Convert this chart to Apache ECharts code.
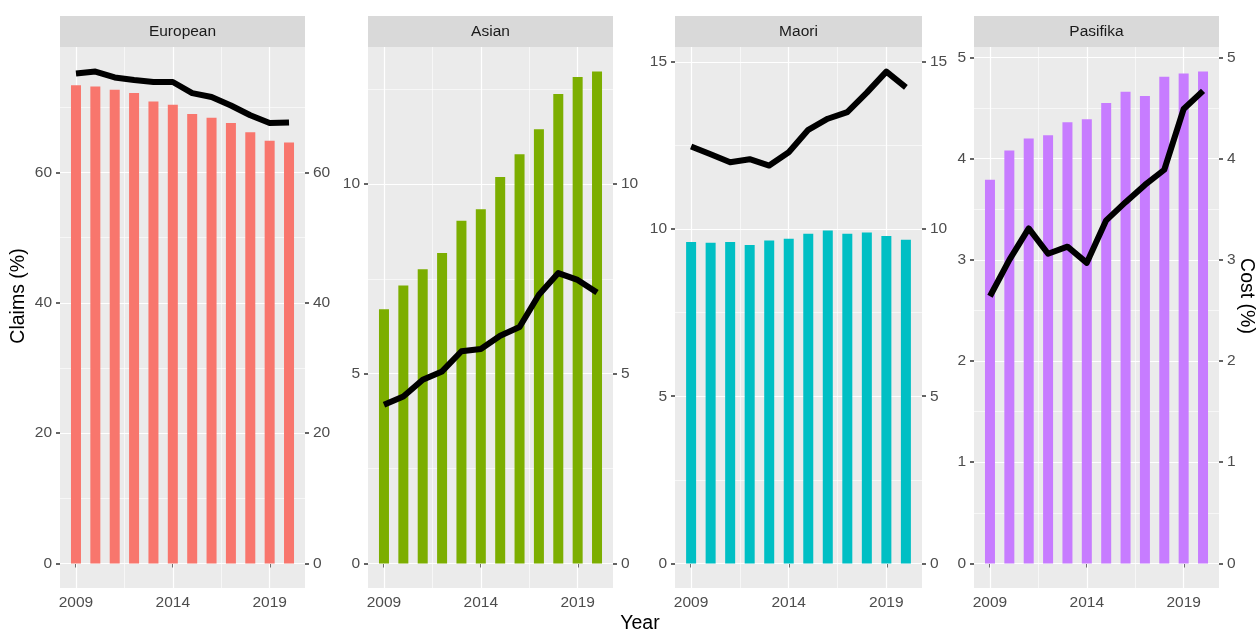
<!DOCTYPE html>
<html>
<head>
<meta charset="utf-8">
<script src="https://cdn.jsdelivr.net/npm/echarts@6/dist/echarts.min.js"></script>
<style>
  html, body { margin: 0; padding: 0; background: #ffffff; }
  #chart { width: 1256px; height: 633px; }
</style>
</head>
<body>
<div id="chart"></div>
<script>
// Claims share (bars) and cost share (line) by ethnic group, 2009-2020
const years = [2009, 2010, 2011, 2012, 2013, 2014, 2015, 2016, 2017, 2018, 2019, 2020];
const groups = ['European', 'Asian', 'Maori', 'Pasifika'];

const claimsEuropean = [73.4, 73.2, 72.7, 72.2, 70.9, 70.4, 69.0, 68.4, 67.6, 66.2, 64.9, 64.6];
const costEuropean   = [75.2, 75.5, 74.6, 74.2, 73.9, 73.9, 72.2, 71.6, 70.3, 68.8, 67.6, 67.7];

const claimsAsian = [6.70, 7.32, 7.75, 8.18, 9.03, 9.33, 10.18, 10.78, 11.44, 12.37, 12.82, 12.96];
const costAsian   = [4.18, 4.40, 4.84, 5.06, 5.59, 5.65, 6.00, 6.23, 7.08, 7.65, 7.47, 7.14];

const claimsMaori = [9.61, 9.59, 9.61, 9.52, 9.66, 9.71, 9.86, 9.96, 9.86, 9.90, 9.79, 9.68];
const costMaori   = [12.47, 12.24, 12.00, 12.09, 11.90, 12.30, 12.97, 13.30, 13.50, 14.08, 14.71, 14.24];

const claimsPasifika = [3.79, 4.08, 4.20, 4.23, 4.36, 4.39, 4.55, 4.66, 4.62, 4.81, 4.84, 4.86];
const costPasifika   = [2.64, 3.00, 3.31, 3.06, 3.13, 2.97, 3.39, 3.57, 3.74, 3.89, 4.49, 4.67];

const yearTicks = [2009, 2014, 2019];
const ticksEuropean = [0, 20, 40, 60];
const ticksAsian = [0, 5, 10];
const ticksMaori = [0, 5, 10, 15];
const ticksPasifika = [0, 1, 2, 3, 4, 5];

const claimsByGroup = [claimsEuropean, claimsAsian, claimsMaori, claimsPasifika];
const costByGroup = [costEuropean, costAsian, costMaori, costPasifika];
const ticksByGroup = [ticksEuropean, ticksAsian, ticksMaori, ticksPasifika];
const barColors = ['#F8766D', '#7CAE00', '#00BFC4', '#C77CFF'];

// panel geometry
const panelLeft = [60, 368, 675, 974];
const panelWidth = [245, 245, 247, 245];
const panelTop = 47;
const panelHeight = 541;
const stripTop = 16;
const stripHeight = 31;

const FONT = '"Liberation Sans", Arial, Helvetica, sans-serif';
const tickFont = 15.5;
const titleFont = 19.5;

// x range: bars of width 0.5 plus 5% padding on each side
const barHalf = 0.25;
const xSpan = (years[years.length - 1] + barHalf) - (years[0] - barHalf);
const xMin = years[0] - barHalf - 0.05 * xSpan;
const xMax = years[years.length - 1] + barHalf + 0.05 * xSpan;

function minorBreaks(major, lo, hi) {
  const step = major[1] - major[0];
  const out = [];
  for (let v = major[0] - step / 2; v <= hi + 1e-9; v += step) {
    if (v >= lo && v <= hi) out.push(+v.toFixed(6));
  }
  return out;
}

const grids = [], xAxes = [], yAxes = [], series = [], graphics = [];

groups.forEach((name, i) => {
  const claims = claimsByGroup[i];
  const cost = costByGroup[i];
  const ticks = ticksByGroup[i];
  const top = Math.max(Math.max(...claims), Math.max(...cost));
  const yMin = -0.05 * top;
  const yMax = 1.05 * top;

  grids.push({
    left: panelLeft[i], top: panelTop, width: panelWidth[i], height: panelHeight,
    show: true, backgroundColor: '#EBEBEB', borderWidth: 0
  });

  xAxes.push({
    gridIndex: i, type: 'value', min: xMin, max: xMax,
    axisLine: { show: false },
    axisTick: { show: true, customValues: yearTicks, length: 4, lineStyle: { color: '#333333', width: 1.5 } },
    axisLabel: { customValues: yearTicks, margin: 7, color: '#4D4D4D', fontSize: tickFont, fontFamily: FONT, formatter: v => String(v) },
    splitLine: { show: false }
  });

  const yCommon = {
    gridIndex: i, type: 'value', min: yMin, max: yMax,
    axisLine: { show: false },
    axisTick: { show: true, customValues: ticks, length: 4, lineStyle: { color: '#333333', width: 1.5 } },
    axisLabel: { customValues: ticks, margin: 8, color: '#4D4D4D', fontSize: tickFont, fontFamily: FONT, formatter: v => String(v) },
    splitLine: { show: false }
  };
  yAxes.push(Object.assign({ position: 'left' }, yCommon));
  yAxes.push(Object.assign({ position: 'right' }, yCommon));

  // panel grid lines (major and minor) drawn under the bars
  const gridLines = [];
  ticks.forEach(v => gridLines.push({ yAxis: v, lineStyle: { color: '#FFFFFF', width: 1.2, type: 'solid' } }));
  minorBreaks(ticks, yMin, yMax).forEach(v => gridLines.push({ yAxis: v, lineStyle: { color: '#FFFFFF', width: 0.6, type: 'solid' } }));
  yearTicks.forEach(v => gridLines.push({ xAxis: v, lineStyle: { color: '#FFFFFF', width: 1.2, type: 'solid' } }));
  minorBreaks(yearTicks, xMin, xMax).forEach(v => gridLines.push({ xAxis: v, lineStyle: { color: '#FFFFFF', width: 0.6, type: 'solid' } }));

  series.push({
    name: name + ' claims', type: 'bar',
    xAxisIndex: i, yAxisIndex: 2 * i,
    data: years.map((y, k) => [y, claims[k]]),
    barWidth: 10,
    itemStyle: { color: barColors[i] },
    z: 2,
    markLine: {
      silent: true, symbol: 'none', z: 1, animation: false,
      label: { show: false },
      emphasis: { disabled: true },
      data: gridLines
    }
  });
  series.push({
    name: name + ' cost', type: 'line',
    xAxisIndex: i, yAxisIndex: 2 * i,
    data: years.map((y, k) => [y, cost[k]]),
    symbol: 'none',
    lineStyle: { color: '#000000', width: 6, join: 'round', cap: 'butt' },
    z: 3
  });

  // facet strip
  graphics.push({
    type: 'rect', silent: true,
    shape: { x: panelLeft[i], y: stripTop, width: panelWidth[i], height: stripHeight },
    style: { fill: '#D9D9D9' }
  });
  graphics.push({
    type: 'text', silent: true,
    x: panelLeft[i] + panelWidth[i] / 2, y: stripTop + stripHeight / 2,
    style: { text: name, fill: '#1A1A1A', fontSize: tickFont, fontFamily: FONT, align: 'center', verticalAlign: 'middle' }
  });
});

// axis titles
graphics.push({
  type: 'text', silent: true, x: 19, y: 296, rotation: Math.PI / 2,
  style: { text: 'Claims (%)', fill: '#000000', fontSize: titleFont, fontFamily: FONT, align: 'center', verticalAlign: 'middle' }
});
graphics.push({
  type: 'text', silent: true, x: 1246, y: 296, rotation: -Math.PI / 2,
  style: { text: 'Cost (%)', fill: '#000000', fontSize: titleFont, fontFamily: FONT, align: 'center', verticalAlign: 'middle' }
});
graphics.push({
  type: 'text', silent: true, x: 640, y: 624,
  style: { text: 'Year', fill: '#000000', fontSize: titleFont, fontFamily: FONT, align: 'center', verticalAlign: 'middle' }
});

const chart = echarts.init(document.getElementById('chart'), null, { renderer: 'canvas' });
chart.setOption({
  animation: false,
  backgroundColor: '#FFFFFF',
  grid: grids,
  xAxis: xAxes,
  yAxis: yAxes,
  series: series,
  graphic: graphics
});
</script>
</body>
</html>
